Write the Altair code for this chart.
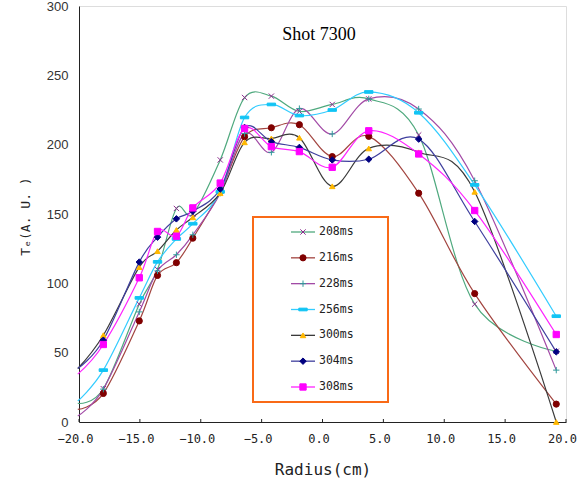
import altair as alt
import pandas as pd

# ---- data ----
radius = [-20.1, -18.0, -15.05, -13.55, -12.0, -10.65, -8.4, -6.4, -4.2, -1.9, 0.8, 3.8, 7.9, 12.5, 19.2]

series_names = ["208ms", "216ms", "228ms", "256ms", "300ms", "304ms", "308ms"]

te_208 = [13.4, 24.0, 85.0, 110.0, 154.0, 150.0, 189.0, 234.0, 235.0, 224.0, 229.0, 233.0, 207.0, 85.0, 51.0]
te_216 = [9.1, 20.6, 72.9, 105.7, 114.9, 132.6, 166.0, 205.7, 212.2, 214.4, 191.4, 206.0, 165.0, 92.6, 12.9]
te_228 = [4.3, 23.7, 79.4, 109.0, 120.6, 135.0, 165.0, 208.0, 194.5, 226.0, 207.7, 233.0, 225.7, 174.0, 37.4]
te_256 = [15.1, 37.4, 89.5, 115.5, 132.0, 143.0, 166.0, 219.6, 229.0, 221.0, 225.0, 238.0, 223.0, 171.0, 76.3]
te_300 = [38.6, 62.6, 111.7, 123.2, 138.5, 147.6, 165.0, 201.7, 204.5, 205.0, 170.0, 197.3, 194.5, 166.0, 0.0]
te_304 = [38.6, 59.0, 115.3, 133.3, 146.5, 152.0, 168.0, 212.4, 202.2, 198.0, 189.0, 189.5, 204.0, 144.6, 50.6]
te_308 = [34.5, 55.9, 104.0, 137.4, 134.0, 154.4, 172.3, 211.7, 198.6, 195.0, 183.7, 210.0, 193.3, 152.5, 63.1]

all_values = [te_208, te_216, te_228, te_256, te_300, te_304, te_308]

x_ticks = [-20, -15, -10, -5, 0, 5, 10, 15, 20]
y_ticks = [0, 50, 100, 150, 200, 250, 300]

# ---- styles ----
line_colors = ["#4FA97E", "#A2443F", "#A24AA6", "#33CCFF", "#3A3A3A", "#3F3F9E", "#FF22FF"]
marker_colors = ["#8E2C8E", "#800000", "#2E9A9A", "#11C4F4", "#FFB800", "#000080", "#FF00FF"]
marker_shapes = [
    "M-1,-1L1,1M-1,1L1,-1",
    "circle",
    "M-1,0H1M0,-1V1",
    "M-1,-0.32H1V0.32H-1Z",
    "triangle-up",
    "diamond",
    "square",
]
marker_sizes = [28, 38, 40, 70, 30, 42, 40]

rows = []
for name, vals, lc, mc, sh, sz in zip(series_names, all_values, line_colors, marker_colors, marker_shapes, marker_sizes):
    for i, (r, v) in enumerate(zip(radius, vals)):
        rows.append({"series": name, "order": i, "r": r, "te": v,
                     "lcolor": lc, "mcolor": mc, "shape": sh, "msize": sz,
                     "marker": i > 0})
df = pd.DataFrame(rows)
df_points = df[df["marker"]]

legend_df = pd.DataFrame({
    "series": series_names, "lcolor": line_colors, "mcolor": marker_colors,
    "shape": marker_shapes, "msize": marker_sizes,
})

W, H = 487, 416

x_scale = alt.Scale(domain=[-20, 20], nice=False, zero=False)
y_scale = alt.Scale(domain=[0, 300], nice=False)

x_axis = alt.Axis(values=x_ticks, format=".1f", grid=False, ticks=False, tickSize=0,
                  labelFlush=False, labelOffset=-4,
                  labelFont="DejaVu Sans Mono", labelFontSize=12, labelColor="#222222",
                  labelPadding=11, domainColor="#222222",
                  title="Radius(cm)", titleFont="DejaVu Sans Mono", titleFontSize=16,
                  titleFontWeight="normal", titleColor="#222222",
                  titleX=W / 2, titleY=47, titleBaseline="middle", titleAnchor="middle")
y_axis = alt.Axis(values=y_ticks, format="d", grid=False, ticks=False, tickSize=0,
                  labelFlush=False,
                  labelFont="Liberation Sans", labelFontSize=13, labelColor="#333333",
                  labelPadding=11, domainColor="#222222",
                  title="Tₑ(A. U. )", titleFont="DejaVu Sans Mono", titleFontSize=13,
                  titleFontWeight="normal", titleColor="#222222",
                  titleX=-54, titleY=H / 2 + 2, titleAngle=-90,
                  titleBaseline="middle", titleAlign="center")

lines = alt.Chart(df).mark_line(interpolate="cardinal", strokeWidth=1.2, clip=False).encode(
    x=alt.X("r:Q", scale=x_scale, axis=x_axis),
    y=alt.Y("te:Q", scale=y_scale, axis=y_axis),
    detail="series:N",
    order="order:Q",
    color=alt.Color("lcolor:N", scale=None),
)

points = alt.Chart(df_points).mark_point(filled=False, opacity=1, strokeWidth=1, clip=False).encode(
    x=alt.X("r:Q", scale=x_scale),
    y=alt.Y("te:Q", scale=y_scale),
    shape=alt.Shape("shape:N", scale=None),
    size=alt.Size("msize:Q", scale=None),
    fill=alt.Fill("mcolor:N", scale=None),
    stroke=alt.Stroke("mcolor:N", scale=None),
)

tick_df = pd.DataFrame({"t": x_ticks})
ticks = alt.Chart(tick_df).mark_rule(color="#222222", strokeWidth=1).encode(
    x=alt.X("t:Q", scale=x_scale),
    y=alt.value(H - 3),
    y2=alt.value(H),
)

title_df = pd.DataFrame({"t": ["Shot 7300"]})
title = alt.Chart(title_df).mark_text(font="Liberation Serif", fontSize=18, color="#000000",
                                      align="center", baseline="middle").encode(
    x=alt.value(240), y=alt.value(29), text="t:N")

main = alt.layer(lines, points, ticks, title)

# ---- legend drawn as marks ----
leg_y = alt.Y("series:N", scale=alt.Scale(type="point", domain=series_names, range=[226, 381], padding=0),
              axis=None)
box = alt.Chart(title_df).mark_rect(fill="white", fillOpacity=0, stroke="#F96A17", strokeWidth=2).encode(
    x=alt.value(174), x2=alt.value(309), y=alt.value(211), y2=alt.value(396))
leg_lines = alt.Chart(legend_df).mark_rule(strokeWidth=1.3).encode(
    x=alt.value(212), x2=alt.value(236), y=leg_y,
    color=alt.Color("lcolor:N", scale=None))
leg_points = alt.Chart(legend_df).mark_point(filled=False, opacity=1, strokeWidth=1).encode(
    x=alt.value(224), y=leg_y,
    shape=alt.Shape("shape:N", scale=None),
    size=alt.Size("msize:Q", scale=None),
    fill=alt.Fill("mcolor:N", scale=None),
    stroke=alt.Stroke("mcolor:N", scale=None))
leg_text = alt.Chart(legend_df).mark_text(font="DejaVu Sans Mono", fontSize=11.5, color="#222222",
                                          align="left", baseline="middle").encode(
    x=alt.value(240), y=leg_y, text="series:N")
legend = alt.layer(box, leg_lines, leg_points, leg_text)

chart = alt.layer(main, legend).resolve_scale(y="independent").properties(
    width=W, height=H,
    autosize=alt.AutoSizeParams(type="none"),
    padding={"left": 79, "top": 6, "right": 19, "bottom": 62},
).configure_view(stroke="#444444", strokeWidth=1).configure(background="white")

chart.save("out.html", embed_options={"renderer": "svg", "actions": False})
